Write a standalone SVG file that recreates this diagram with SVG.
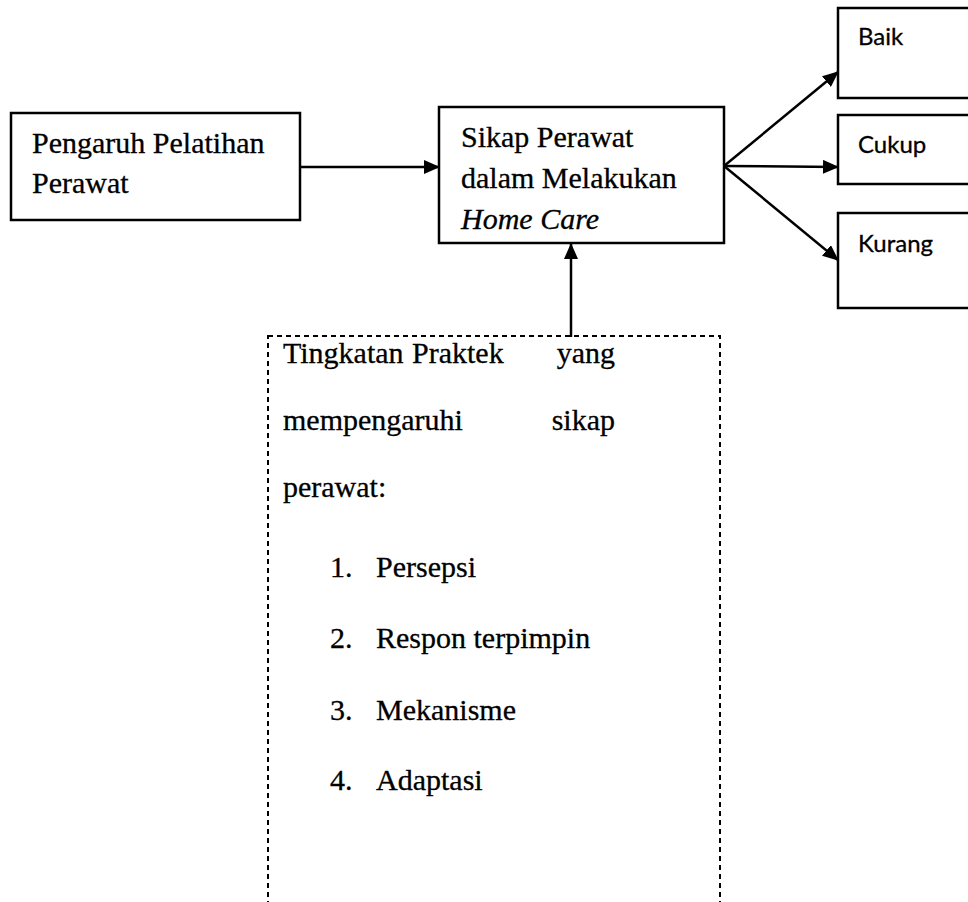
<svg xmlns="http://www.w3.org/2000/svg" width="968" height="902" viewBox="0 0 968 902">
<defs>
<marker id="ah" markerUnits="userSpaceOnUse" markerWidth="16" markerHeight="14" refX="15" refY="7" orient="auto">
<path d="M0,0 L16,7 L0,14 Z" fill="#000"/>
</marker>
</defs>
<style>
.box{fill:#fff;stroke:#000;stroke-width:2.5}
.dash{fill:none;stroke:#000;stroke-width:2;stroke-dasharray:5 4}
.t{font-family:"Liberation Serif","Times New Roman",serif;font-size:30px;fill:#000;stroke:#000;stroke-width:0.3}
.i{font-style:italic}
.e{text-anchor:end}
.s{font-family:Lato,"Liberation Sans",sans-serif;font-size:24px;fill:#000;stroke:#000;stroke-width:0.3}
.c{stroke:#000;stroke-width:2.5;fill:none;marker-end:url(#ah)}
</style>
<rect width="968" height="902" fill="#fff"/>
<g id="connectors">
<line class="c" x1="300" y1="167" x2="439" y2="167"/>
<line class="c" x1="571" y1="337" x2="571" y2="244"/>
<line class="c" x1="724" y1="166" x2="838" y2="72"/>
<line class="c" x1="724" y1="166" x2="838" y2="167"/>
<line class="c" x1="724" y1="166" x2="838" y2="260"/>
</g>
<g id="pengaruh">
<rect class="box" x="11" y="113" width="289" height="107"/>
<text class="t" x="32" y="153">Pengaruh Pelatihan</text>
<text class="t" x="32" y="193">Perawat</text>
</g>
<g id="sikap">
<rect class="box" x="439" y="107" width="285" height="136"/>
<text class="t" x="461" y="147">Sikap Perawat</text>
<text class="t" x="461" y="188">dalam Melakukan</text>
<text class="t i" x="461" y="229">Home Care</text>
</g>
<g id="baik">
<rect class="box" x="838" y="8" width="140" height="90"/>
<text class="s" x="858" y="45">Baik</text>
</g>
<g id="cukup">
<rect class="box" x="838" y="115" width="140" height="69"/>
<text class="s" x="858" y="153">Cukup</text>
</g>
<g id="kurang">
<rect class="box" x="838" y="213" width="140" height="95"/>
<text class="s" x="858" y="252">Kurang</text>
</g>
<g id="tingkatan">
<rect class="dash" x="268" y="336" width="452" height="580"/>
<text class="t" x="283" y="363">Tingkatan</text>
<text class="t" x="412" y="363">Praktek</text>
<text class="t e" x="615" y="363">yang</text>
<text class="t" x="283" y="430">mempengaruhi</text>
<text class="t e" x="615" y="430">sikap</text>
<text class="t" x="283" y="497">perawat:</text>
<text class="t" x="330" y="577">1.</text><text class="t" x="376" y="577">Persepsi</text>
<text class="t" x="330" y="648">2.</text><text class="t" x="376" y="648">Respon terpimpin</text>
<text class="t" x="330" y="720">3.</text><text class="t" x="376" y="720">Mekanisme</text>
<text class="t" x="330" y="790">4.</text><text class="t" x="376" y="790">Adaptasi</text>
</g>
</svg>
